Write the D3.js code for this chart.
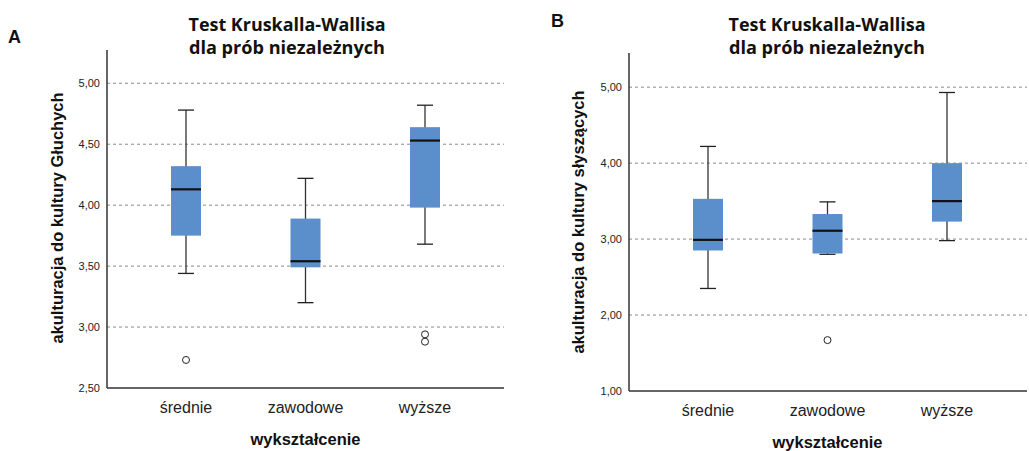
<!DOCTYPE html>
<html>
<head>
<meta charset="utf-8">
<script src="https://cdn.jsdelivr.net/npm/d3@7"></script>
<style>
  body { margin: 0; background: #fff; }
  svg { display: block; }
</style>
</head>
<body>
<div id="chart"></div>
<script>
// data
const categories = ['średnie', 'zawodowe', 'wyższe'];

// panel A: akulturacja do kultury Głuchych
const aLow    = [3.44, 3.20, 3.68];
const aQ1     = [3.75, 3.49, 3.98];
const aMedian = [4.13, 3.54, 4.53];
const aQ3     = [4.32, 3.89, 4.64];
const aHigh   = [4.78, 4.22, 4.82];
const aOutliers = [[2.73], [], [2.94, 2.88]];
const aTicks = [2.5, 3.0, 3.5, 4.0, 4.5, 5.0];

// panel B: akulturacja do kultury słyszących
const bLow    = [2.35, 2.80, 2.98];
const bQ1     = [2.85, 2.81, 3.23];
const bMedian = [2.99, 3.11, 3.50];
const bQ3     = [3.53, 3.33, 4.00];
const bHigh   = [4.22, 3.49, 4.93];
const bOutliers = [[], [1.67], []];
const bTicks = [1, 2, 3, 4, 5];

const width = 1029, height = 451;
const boxFill = '#5b8fcb';

const svg = d3.select('#chart').append('svg')
  .attr('width', width)
  .attr('height', height);

const fmt = v => d3.format('.2f')(v).replace('.', ',');

const drawPanel = (opt) => {
  const g = svg.append('g');

  const y = d3.scaleLinear().domain(opt.domain).range([opt.bottom, opt.top]);
  const x = d3.scalePoint().domain(categories).range([opt.firstX, opt.lastX]);

  // panel letter
  g.append('text')
    .attr('x', opt.letterX).attr('y', opt.letterY)
    .attr('font-family', 'Liberation Sans, Arial, sans-serif')
    .attr('font-weight', 'bold').attr('font-size', 18)
    .attr('fill', '#111')
    .text(opt.letter);

  // title
  const title = g.append('text')
    .attr('text-anchor', 'middle')
    .attr('font-family', 'Open Sans, sans-serif')
    .attr('font-weight', 'bold').attr('font-size', 18)
    .attr('fill', '#111');
  title.append('tspan').attr('x', opt.titleX).attr('y', 31)
    .attr('textLength', 197).attr('lengthAdjust', 'spacingAndGlyphs')
    .text('Test Kruskalla-Wallisa');
  title.append('tspan').attr('x', opt.titleX).attr('y', 54)
    .attr('textLength', 196).attr('lengthAdjust', 'spacingAndGlyphs')
    .text('dla prób niezależnych');

  // grid
  g.selectAll('.grid')
    .data(opt.ticks.slice(1))
    .enter().append('line')
    .attr('x1', opt.left).attr('x2', opt.right)
    .attr('y1', d => y(d)).attr('y2', d => y(d))
    .attr('stroke', '#8a8a8a').attr('stroke-width', 1)
    .attr('stroke-dasharray', '3,3');

  // y axis
  const yAxis = g.append('g')
    .attr('transform', `translate(${opt.left},0)`)
    .call(d3.axisLeft(y).tickValues(opt.ticks).tickFormat(fmt).tickSize(0).tickPadding(7));
  yAxis.select('.domain').remove();
  yAxis.selectAll('text')
    .attr('font-family', 'Liberation Sans, Arial, sans-serif')
    .attr('font-size', 11).attr('fill', '#222');

  g.append('line')
    .attr('x1', opt.left).attr('x2', opt.left)
    .attr('y1', opt.top).attr('y2', opt.bottom)
    .attr('stroke', '#333').attr('stroke-width', 1.5);
  g.append('line')
    .attr('x1', opt.left).attr('x2', opt.right)
    .attr('y1', opt.bottom).attr('y2', opt.bottom)
    .attr('stroke', '#333').attr('stroke-width', 1.5);

  // x labels
  g.selectAll('.cat')
    .data(categories)
    .enter().append('text')
    .attr('x', d => x(d)).attr('y', opt.bottom + 25)
    .attr('text-anchor', 'middle')
    .attr('font-family', 'Liberation Sans, Arial, sans-serif')
    .attr('font-size', 16).attr('fill', '#222')
    .text(d => d);

  g.append('text')
    .attr('x', x(categories[1])).attr('y', opt.bottom + 57)
    .attr('text-anchor', 'middle')
    .attr('font-family', 'Liberation Sans, Arial, sans-serif')
    .attr('font-weight', 'bold').attr('font-size', 16.5).attr('fill', '#111')
    .text('wykształcenie');

  g.append('text')
    .attr('transform', `translate(${opt.yTitleX},${opt.yTitleY}) rotate(-90)`)
    .attr('text-anchor', 'middle')
    .attr('font-family', 'Liberation Sans, Arial, sans-serif')
    .attr('font-weight', 'bold').attr('font-size', 16.5).attr('fill', '#111')
    .text(opt.yTitle);

  // boxes
  const rows = categories.map((c, i) => ({
    cat: c, low: opt.low[i], q1: opt.q1[i], med: opt.med[i], q3: opt.q3[i], high: opt.high[i], out: opt.out[i]
  }));
  const bw = 30, cw = 16;
  const box = g.selectAll('.box').data(rows).enter().append('g');

  box.append('line')
    .attr('x1', d => x(d.cat)).attr('x2', d => x(d.cat))
    .attr('y1', d => y(d.low)).attr('y2', d => y(d.high))
    .attr('stroke', '#333').attr('stroke-width', 1.3);
  box.append('line')
    .attr('x1', d => x(d.cat) - cw / 2).attr('x2', d => x(d.cat) + cw / 2)
    .attr('y1', d => y(d.high)).attr('y2', d => y(d.high))
    .attr('stroke', '#222').attr('stroke-width', 1.3);
  box.append('line')
    .attr('x1', d => x(d.cat) - cw / 2).attr('x2', d => x(d.cat) + cw / 2)
    .attr('y1', d => y(d.low)).attr('y2', d => y(d.low))
    .attr('stroke', '#222').attr('stroke-width', 1.3);
  box.append('rect')
    .attr('x', d => x(d.cat) - bw / 2).attr('width', bw)
    .attr('y', d => y(d.q3)).attr('height', d => y(d.q1) - y(d.q3))
    .attr('fill', boxFill);
  box.append('line')
    .attr('x1', d => x(d.cat) - bw / 2).attr('x2', d => x(d.cat) + bw / 2)
    .attr('y1', d => y(d.med)).attr('y2', d => y(d.med))
    .attr('stroke', '#111').attr('stroke-width', 2.2);
  box.selectAll('circle')
    .data(d => d.out.map(v => ({ cat: d.cat, v })))
    .enter().append('circle')
    .attr('cx', d => x(d.cat)).attr('cy', d => y(d.v))
    .attr('r', 3.5)
    .attr('fill', '#fff').attr('stroke', '#222').attr('stroke-width', 1);
};

drawPanel({
  letter: 'A', letterX: 8, letterY: 43,
  titleX: 287,
  left: 107, right: 504, top: 50, bottom: 388,
  domain: [2.5, 5.273],
  ticks: aTicks,
  firstX: 186, lastX: 425,
  yTitle: 'akulturacja do kultury Głuchych', yTitleX: 63, yTitleY: 218,
  low: aLow, q1: aQ1, med: aMedian, q3: aQ3, high: aHigh, out: aOutliers
});

drawPanel({
  letter: 'B', letterX: 551, letterY: 27,
  titleX: 827,
  left: 629, right: 1027, top: 53, bottom: 391,
  domain: [1, 5.45],
  ticks: bTicks,
  firstX: 708, lastX: 947,
  yTitle: 'akulturacja do kultury słyszących', yTitleX: 584, yTitleY: 222,
  low: bLow, q1: bQ1, med: bMedian, q3: bQ3, high: bHigh, out: bOutliers
});
</script>
</body>
</html>
